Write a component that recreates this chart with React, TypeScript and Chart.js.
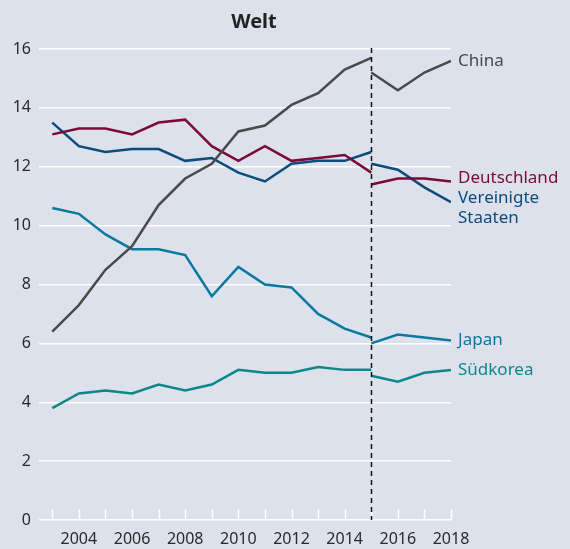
import React, { useEffect, useRef } from "react";
import { Chart, registerables } from "chart.js";

Chart.register(...registerables);

const YEARS_OLD = [2003, 2004, 2005, 2006, 2007, 2008, 2009, 2010, 2011, 2012, 2013, 2014, 2015];
const YEARS_NEW = [2015, 2016, 2017, 2018];
const TICK_YEARS = [2003, 2004, 2005, 2006, 2007, 2008, 2009, 2010, 2011, 2012, 2013, 2014, 2015, 2016, 2017, 2018];
const Y_TICKS = [0, 2, 4, 6, 8, 10, 12, 14, 16];

const CHINA_OLD = [6.4, 7.3, 8.5, 9.3, 10.7, 11.6, 12.1, 13.2, 13.4, 14.1, 14.5, 15.3, 15.7];
const CHINA_NEW = [15.2, 14.6, 15.2, 15.6];
const DE_OLD = [13.1, 13.3, 13.3, 13.1, 13.5, 13.6, 12.7, 12.2, 12.7, 12.2, 12.3, 12.4, 11.8];
const DE_NEW = [11.4, 11.6, 11.6, 11.5];
const US_OLD = [13.5, 12.7, 12.5, 12.6, 12.6, 12.2, 12.3, 11.8, 11.5, 12.1, 12.2, 12.2, 12.5];
const US_NEW = [12.1, 11.9, 11.3, 10.8];
const JP_OLD = [10.6, 10.4, 9.7, 9.2, 9.2, 9.0, 7.6, 8.6, 8.0, 7.9, 7.0, 6.5, 6.2];
const JP_NEW = [6.0, 6.3, 6.2, 6.1];
const KR_OLD = [3.8, 4.3, 4.4, 4.3, 4.6, 4.4, 4.6, 5.1, 5.0, 5.0, 5.2, 5.1, 5.1];
const KR_NEW = [4.9, 4.7, 5.0, 5.1];

const BREAK_YEAR = 2015;
const TITLE = "Welt";

const SERIES = [
  { name: ["China"], color: "#4a4a4a", old: CHINA_OLD, neu: CHINA_NEW, dy: 0 },
  { name: ["Deutschland"], color: "#7b0a38", old: DE_OLD, neu: DE_NEW, dy: -3 },
  { name: ["Vereinigte", "Staaten"], color: "#0b4c7d", old: US_OLD, neu: US_NEW, dy: -4 },
  { name: ["Japan"], color: "#0a789f", old: JP_OLD, neu: JP_NEW, dy: 0 },
  { name: ["Südkorea"], color: "#0d8789", old: KR_OLD, neu: KR_NEW, dy: 0 },
];

const FONT = "'Noto Sans', 'Open Sans', sans-serif";

const toPts = (xs: number[], ys: number[]) => xs.map((x, i) => ({ x, y: ys[i] }));

export default function App() {
  const ref = useRef<HTMLCanvasElement | null>(null);

  useEffect(() => {
    if (!ref.current) return;
    const datasets: any[] = [];
    SERIES.forEach((s) => {
      datasets.push({ label: s.name.join(" "), data: toPts(YEARS_OLD, s.old), borderColor: s.color, borderWidth: 2.5, pointRadius: 0, tension: 0 });
      datasets.push({ label: s.name.join(" ") + " neu", data: toPts(YEARS_NEW, s.neu), borderColor: s.color, borderWidth: 2.5, pointRadius: 0, tension: 0 });
    });

    const decor = {
      id: "decor",
      beforeDatasetsDraw(chart: any) {
        const { ctx, chartArea, scales } = chart;
        const x = scales.x;
        ctx.save();
        ctx.strokeStyle = "#ffffff";
        ctx.lineWidth = 1.5;
        TICK_YEARS.forEach((yr) => {
          const px = Math.round(x.getPixelForValue(yr)) + 0.5;
          ctx.beginPath();
          ctx.moveTo(px, chartArea.bottom);
          ctx.lineTo(px, chartArea.bottom - 11);
          ctx.stroke();
        });
        ctx.restore();
      },
      afterDatasetsDraw(chart: any) {
        const { ctx, chartArea, scales } = chart;
        const x = scales.x, y = scales.y;
        ctx.save();
        const bx = Math.round(x.getPixelForValue(BREAK_YEAR)) + 0.5;
        ctx.strokeStyle = "#111";
        ctx.lineWidth = 1.5;
        ctx.setLineDash([5, 4]);
        ctx.beginPath();
        ctx.moveTo(bx, chartArea.top - 1);
        ctx.lineTo(bx, chartArea.bottom);
        ctx.stroke();
        ctx.setLineDash([]);
        ctx.font = `17px ${FONT}`;
        ctx.textAlign = "left";
        ctx.textBaseline = "middle";
        SERIES.forEach((s) => {
          const last = s.neu[s.neu.length - 1];
          const py = y.getPixelForValue(last) + s.dy;
          ctx.fillStyle = s.color;
          s.name.forEach((line, i) => {
            ctx.fillText(line, chartArea.right + 7, py + i * 20);
          });
        });
        ctx.fillStyle = "#222";
        ctx.font = `bold 20px ${FONT}`;
        ctx.textAlign = "center";
        ctx.fillText(TITLE, 254, 22);
        ctx.restore();
      },
    };

    const chart = new Chart(ref.current, {
      type: "line",
      data: { datasets },
      options: {
        animation: false,
        responsive: false,
        layout: { padding: { left: 0, right: 119, top: 49, bottom: 0 } },
        plugins: { legend: { display: false }, tooltip: { enabled: false }, title: { display: false } },
        scales: {
          x: {
            type: "linear",
            min: 2002.5,
            max: 2018,
            afterBuildTicks: (scale: any) => {
              scale.ticks = TICK_YEARS.map((v) => ({ value: v }));
            },
            afterFit: (scale: any) => {
              scale.height = 29;
            },
            grid: { display: false },
            border: { display: false },
            ticks: {
              autoSkip: false,
              maxRotation: 0,
              padding: 2,
              color: "#2a2a2a",
              font: { family: FONT, size: 16 },
              callback: (v: any) => (Number(v) % 2 === 0 ? String(v) : ""),
            },
          },
          y: {
            min: 0,
            max: 16,
            afterBuildTicks: (scale: any) => {
              scale.ticks = Y_TICKS.map((v) => ({ value: v }));
            },
            afterFit: (scale: any) => {
              scale.width = 39;
            },
            grid: { color: "#ffffff", lineWidth: 1.5, drawTicks: false },
            border: { display: false },
            ticks: {
              padding: 8,
              color: "#2a2a2a",
              font: { family: FONT, size: 16 },
            },
          },
        },
      },
      plugins: [decor],
    });
    return () => chart.destroy();
  }, []);

  return (
    <div style={{ position: "fixed", left: 0, top: 0, width: 570, height: 549, background: "#dce1ec" }}>
      <canvas ref={ref} width={570} height={549} style={{ display: "block" }} />
    </div>
  );
}
